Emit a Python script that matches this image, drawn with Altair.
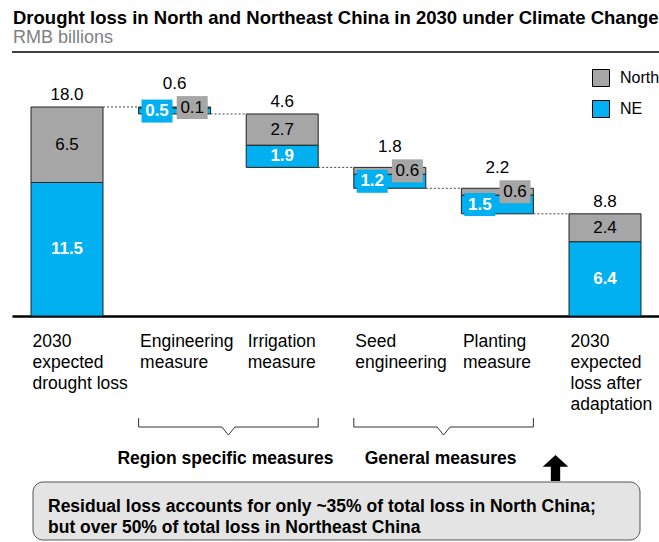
import altair as alt
import pandas as pd

# ---------------- data ----------------
categories = ["2030 expected drought loss", "Engineering measure", "Irrigation measure",
              "Seed engineering", "Planting measure", "2030 expected loss after adaptation"]
label_lines = [["2030", "expected", "drought loss"], ["Engineering", "measure"],
               ["Irrigation", "measure"], ["Seed", "engineering"], ["Planting", "measure"],
               ["2030", "expected", "loss after", "adaptation"]]
totals = [18.0, 0.6, 4.6, 1.8, 2.2, 8.8]
total_labels = ["18.0", "0.6", "4.6", "1.8", "2.2", "8.8"]
north = [6.5, 0.1, 2.7, 0.6, 0.6, 2.4]
ne = [11.5, 0.5, 1.9, 1.2, 1.5, 6.4]
is_total = [True, False, False, False, False, True]
series = ["North", "NE"]
series_colors = ["#A6A6A6", "#00B0F0"]
group_names = ["Region specific measures", "General measures"]
group_first = [1, 3]
group_last = [2, 4]
note_lines = ["Residual loss accounts for only ~35% of total loss in North China;",
              "but over 50% of total loss in Northeast China"]

# ---------------- layout ----------------
FONT = "Liberation Sans"
W, H = 659, 542
TOP = 54
PLOT_H = 262
Y_MAX = 22.565
PX = PLOT_H / Y_MAX
X_LEFT, X_CENTER0, X_STEP = 12, 67, 107.6
X_DOMAIN = [(X_LEFT - X_CENTER0) / X_STEP, (W - X_CENTER0) / X_STEP]
BAR_W = 72
HALF = BAR_W / 2 / X_STEP
BOX_W, BOX_H = 31, 23
BOX_OFF = 17.6 / X_STEP
BOX_LIMIT = 1.6
NOTCH = 6.5 / X_STEP

seg_rows, conn_rows, tot_rows, lab_rows = [], [], [], []
level = None
for i in range(len(categories)):
    if is_total[i]:
        top, bottom = totals[i], 0.0
        parts = [("NE", ne[i], 0.0, ne[i]), ("North", north[i], ne[i], top)]
        after = top
    else:
        top, bottom = level, level - totals[i]
        cut = top - north[i]
        parts = [("North", north[i], cut, top), ("NE", ne[i], bottom, cut)]
        after = bottom
    label_top = top
    for s, v, a, b in parts:
        seg_rows.append(dict(i=i, series=s, y0=a, y1=b))
        mid = (a + b) / 2
        if (not is_total[i]) and v < BOX_LIMIT:
            xc = i + (BOX_OFF if s == "North" else -BOX_OFF)
            lab_rows.append(dict(x=xc, y=mid, series=s, label=f"{v:.1f}", box=True,
                                 b0=mid - BOX_H / 2 / PX, b1=mid + BOX_H / 2 / PX))
            label_top = max(label_top, mid + BOX_H / 2 / PX)
        else:
            lab_rows.append(dict(x=i, y=mid, series=s, label=f"{v:.1f}", box=False,
                                 b0=mid, b1=mid))
    tot_rows.append(dict(i=i, y=label_top, label=total_labels[i]))
    if i < len(categories) - 1:
        conn_rows.append(dict(xa=i + HALF, xb=i + 1 - HALF, y=after))
    level = after

seg_df = pd.DataFrame(seg_rows)
conn_df = pd.DataFrame(conn_rows)
tot_df = pd.DataFrame(tot_rows)
lab_df = pd.DataFrame(lab_rows)
box_df = lab_df[lab_df["box"]]

br_df = pd.DataFrame(dict(
    name=group_names,
    left=[f - HALF for f in group_first],
    right=[l + HALF for l in group_last],
))
br_df["center"] = (br_df["left"] + br_df["right"]) / 2
br_df["cl"] = br_df["center"] - NOTCH
br_df["cr"] = br_df["center"] + NOTCH

x_scale = alt.Scale(domain=X_DOMAIN, range=[X_LEFT, W], nice=False, zero=False, padding=0)
y_scale = alt.Scale(domain=[0, Y_MAX], range=[PLOT_H, 0], nice=False, zero=False, padding=0)
color_scale = alt.Scale(domain=series, range=series_colors)

labels_expr = "split([" + ",".join("'" + "|".join(l) + "'" for l in label_lines) + "][datum.value], '|')"
x_axis = alt.Axis(
    values=list(range(len(categories))), labelExpr=labels_expr, ticks=False, grid=False,
    domain=True, domainColor="black", domainWidth=2.5, labelAlign="left",
    labelBaseline="top", labelOffset=-35, labelPadding=16, labelFontSize=17.5,
    labelFont=FONT, labelColor="black", labelLineHeight=21, labelOverlap=False,
    labelBound=False, labelFlush=False, labelLimit=0, title=None)


def X(field):
    return alt.X(field, scale=x_scale, axis=x_axis)


def Y(field):
    return alt.Y(field, scale=y_scale, axis=None)


bars = alt.Chart(seg_df).mark_bar(size=BAR_W, stroke="#222222", strokeWidth=1).encode(
    x=X("i:Q"), y=Y("y0:Q"), y2="y1:Q",
    color=alt.Color("series:N", scale=color_scale, legend=alt.Legend(
        orient="none", legendX=592, legendY=15, title=None, symbolType="square",
        symbolSize=289, symbolStrokeColor="black", symbolStrokeWidth=1,
        labelFontSize=16, labelFont=FONT, labelColor="black", labelOffset=10,
        rowPadding=9, padding=0, labelLimit=0)),
)

conns = alt.Chart(conn_df).mark_rule(strokeDash=[2, 2], color="#444444", strokeWidth=1).encode(
    x=X("xa:Q"), x2="xb:Q", y=Y("y:Q"))

boxes = alt.Chart(box_df).mark_bar(size=BOX_W).encode(
    x=X("x:Q"), y=Y("b0:Q"), y2="b1:Q",
    color=alt.Color("series:N", scale=color_scale, legend=None),
)

lab_north = alt.Chart(lab_df).transform_filter("datum.series == 'North'").mark_text(
    fontSize=17, font=FONT, color="black", baseline="middle").encode(
    x=X("x:Q"), y=Y("y:Q"), text="label:N")

lab_ne = alt.Chart(lab_df).transform_filter("datum.series == 'NE'").mark_text(
    fontSize=17, font=FONT, color="white", fontWeight="bold", baseline="middle").encode(
    x=X("x:Q"), y=Y("y:Q"), text="label:N")

tots = alt.Chart(tot_df).mark_text(fontSize=17, font=FONT, color="black",
                                   baseline="middle", dy=-12).encode(
    x=X("i:Q"), y=Y("y:Q"), text="label:N")

# brackets
brk = alt.Chart(br_df)
br_ticks = brk.transform_fold(["left", "right"], as_=["side", "pos"]).mark_rule(
    color="#333333", strokeWidth=1).encode(
    x=X("pos:Q"), y=alt.value(364), y2=alt.value(373))
br_h1 = brk.mark_rule(color="#333333", strokeWidth=1).encode(
    x=X("left:Q"), x2="cl:Q", y=alt.value(373))
br_h2 = brk.mark_rule(color="#333333", strokeWidth=1).encode(
    x=X("cr:Q"), x2="right:Q", y=alt.value(373))
br_d1 = brk.mark_rule(color="#333333", strokeWidth=1).encode(
    x=X("cl:Q"), x2="center:Q", y=alt.value(373), y2=alt.value(381))
br_d2 = brk.mark_rule(color="#333333", strokeWidth=1).encode(
    x=X("center:Q"), x2="cr:Q", y=alt.value(381), y2=alt.value(373))
br_text = brk.mark_text(fontSize=17.5, font=FONT, fontWeight="bold", color="black",
                        baseline="middle", dx=-3).encode(
    x=X("center:Q"), y=alt.value(405), text="name:N")

# separator under subtitle
sep = alt.Chart(pd.DataFrame({"k": [0]})).mark_rule(color="black", strokeWidth=1.5).encode(
    x=alt.value(12), x2=alt.value(W), y=alt.value(-2))

# annotation box, arrow and note
note_box = alt.Chart(pd.DataFrame({"k": [0]})).mark_rect(
    fill="#E4E4E4", stroke="#555555", strokeWidth=1, cornerRadius=10).encode(
    x=alt.value(33), x2=alt.value(640), y=alt.value(428), y2=alt.value(486))
arrow_path = "M0,-1 L0.985,-0.1 L0.36,-0.1 L0.36,1 L-0.36,1 L-0.36,-0.1 L-0.985,-0.1 Z"
arrow = alt.Chart(pd.DataFrame({"k": [0]})).mark_point(
    shape=arrow_path, filled=True, color="black", opacity=1, size=676).encode(
    x=alt.value(555.5), y=alt.value(414))
note = alt.Chart(pd.DataFrame({"k": [0]})).mark_text(
    fontSize=17.5, font=FONT, fontWeight="bold", color="black", align="left",
    baseline="middle", lineHeight=21).encode(
    x=alt.value(48), y=alt.value(453), text=alt.value(note_lines))

chart = alt.layer(
    bars, conns, boxes, lab_north, lab_ne, tots,
    br_ticks, br_h1, br_h2, br_d1, br_d2, br_text, sep, arrow, note_box, note,
).properties(
    width=W, height=PLOT_H,
    padding={"left": 0, "top": TOP, "right": 0, "bottom": H - TOP - PLOT_H},
    autosize=alt.AutoSizeParams(type="none"),
    title=alt.TitleParams(
        text="Drought loss in North and Northeast China in 2030 under Climate Change",
        subtitle="RMB billions", anchor="start", dx=13, offset=4,
        font=FONT, fontSize=18.5, fontWeight="bold", color="black",
        subtitleFont=FONT, subtitleFontSize=18, subtitleColor="#808080", subtitlePadding=2),
).configure_view(stroke=None)

chart.save("out.html", embed_options={"renderer": "svg", "actions": False})
